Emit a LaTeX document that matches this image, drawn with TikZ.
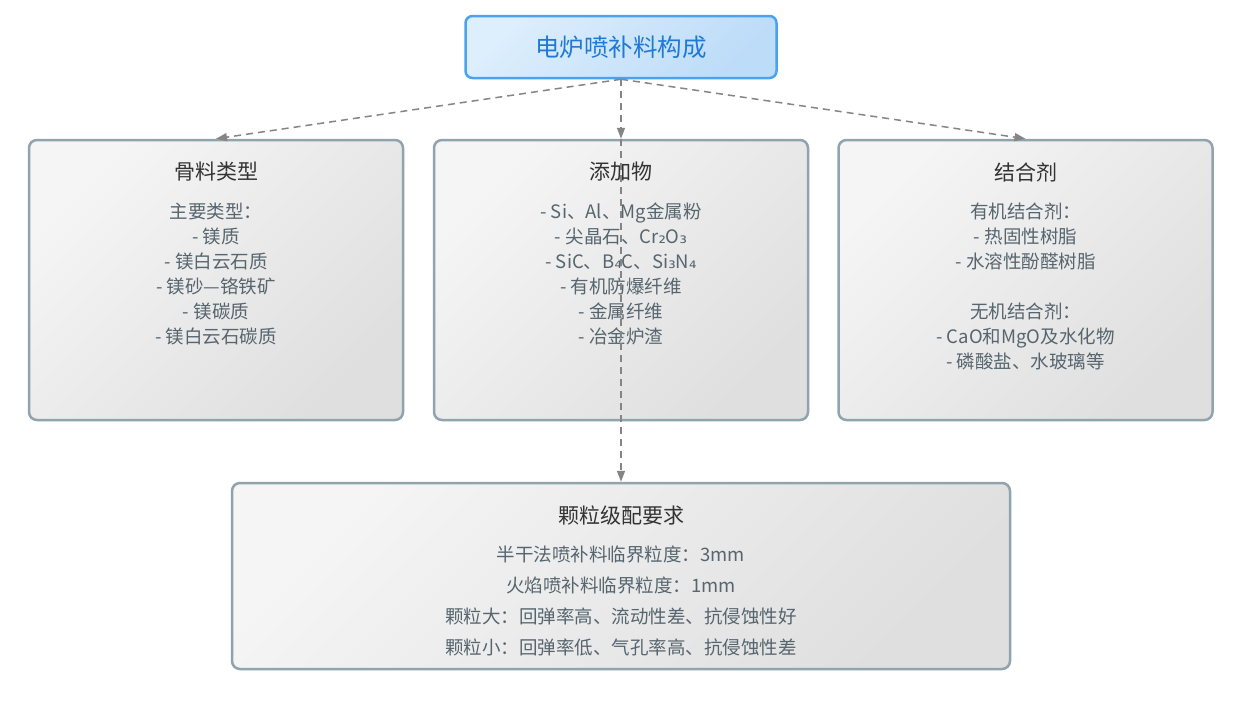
\documentclass[tikz,border=0pt]{standalone}
\usepackage{fontspec}
\setmainfont{Noto Sans CJK SC}
\newfontfamily\djv{DejaVu Sans}
\usetikzlibrary{arrows.meta}
\definecolor{boxborder}{HTML}{90A4AE}
\definecolor{bodytxt}{HTML}{56656E}
\definecolor{titletxt}{HTML}{333333}
\definecolor{topborder}{HTML}{4AA3F0}
\definecolor{toptxt}{HTML}{1E7AD6}
\definecolor{toplight}{HTML}{DDEEFC}
\definecolor{topdark}{HTML}{BDDCF8}
\definecolor{boxlight}{HTML}{F5F5F5}
\definecolor{boxdark}{HTML}{DFDFDF}
\definecolor{edgecol}{HTML}{858585}
\newcommand{\subd}[1]{{\djv #1}}
\begin{document}
\begin{tikzpicture}[x=1pt,y=-1pt,
  card/.style={draw=boxborder, line width=2.5pt, rounded corners=8pt,
    top color=boxlight, bottom color=boxdark, shading angle=45,
    inner sep=0pt, minimum width=374pt, minimum height=280pt},
  rootbox/.style={draw=topborder, line width=2.5pt, rounded corners=7pt,
    top color=toplight, bottom color=topdark, shading angle=45,
    inner sep=0pt, minimum width=311pt, minimum height=62pt,
    text=toptxt, font=\fontsize{24.5}{28}\selectfont},
  cardtitle/.style={text=titletxt, font=\fontsize{21}{25}\selectfont, inner sep=0pt},
  cardbody/.style={text=bodytxt, font=\fontsize{18.5}{25}\selectfont, align=center, inner sep=0pt},
  conn/.style={draw=edgecol, line width=1.5pt, dash pattern=on 7pt off 5pt,
    -{Triangle[length=11pt,width=8pt]}}
]
\useasboundingbox (0,0) rectangle (1236,705);
\fill[white] (0,0) rectangle (1236,705);

\node[rootbox] (root) at (621,47) {电炉喷补料构成};

\node[card] (agg) at (216,280) {};
\node[card] (add) at (621,280) {};
\node[card] (bind) at (1025.5,280) {};
\node[card, minimum width=778pt, minimum height=186pt] (grain) at (621,576) {};

\node[cardtitle] (aggt) at (216,172) {骨料类型};
\node[cardbody] (aggb) at (216,274) {主要类型：\\- 镁质\\- 镁白云石质\\- 镁砂—铬铁矿\\- 镁碳质\\- 镁白云石碳质};

\node[cardtitle] (addt) at (621,172) {添加物};
\node[cardbody] (addb) at (621,274) {- Si、Al、Mg金属粉\\- 尖晶石、Cr\subd{₂}O\subd{₃}\\- SiC、B\subd{₄}C、Si\subd{₃}N\subd{₄}\\- 有机防爆纤维\\- 金属纤维\\- 冶金炉渣};

\node[cardtitle] (bindt) at (1025.5,172) {结合剂};
\node[cardbody] (bindb) at (1025.5,286.5) {有机结合剂：\\- 热固性树脂\\- 水溶性酚醛树脂\\[25pt]无机结合剂：\\- CaO和MgO及水化物\\- 磷酸盐、水玻璃等};

\node[cardtitle] (graint) at (621,515) {颗粒级配要求};
\node[cardbody, font=\fontsize{18.5}{31}\selectfont] (grainb) at (621,600.5) {半干法喷补料临界粒度：3mm\\火焰喷补料临界粒度：1mm\\颗粒大：回弹率高、流动性差、抗侵蚀性好\\颗粒小：回弹率低、气孔率高、抗侵蚀性差};

\draw[conn] (root.south) -- (agg.north);
\draw[conn] (root.south) -- (add.north);
\draw[conn] (root.south) -- (bind.north);
\draw[conn] (root.south) -- (grain.north);
\end{tikzpicture}
\end{document}
